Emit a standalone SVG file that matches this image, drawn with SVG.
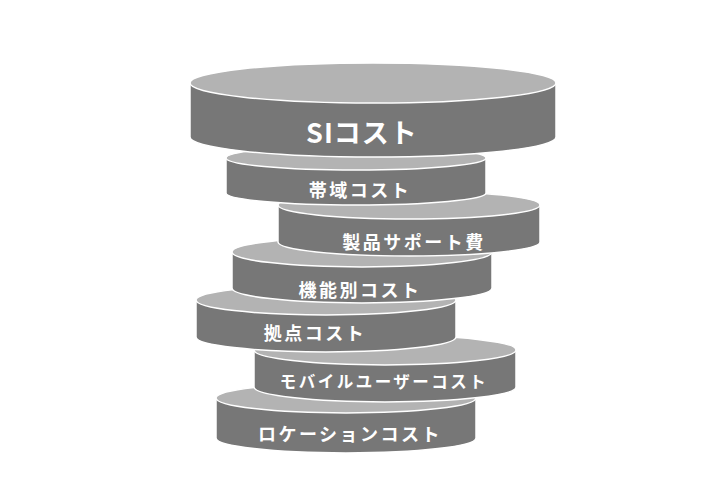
<svg xmlns="http://www.w3.org/2000/svg" width="701" height="501" viewBox="0 0 701 501">
<style>
.side{fill:#777;stroke:#fff;stroke-width:1.5}
.top{fill:#b3b3b3;stroke:#fff;stroke-width:1.5}
text{font-family:"Noto Sans CJK JP","Noto Sans",sans-serif;font-weight:bold;fill:#fff;text-anchor:middle;dominant-baseline:central;font-size:18px;letter-spacing:2.5px}
</style>
<rect width="701" height="501" fill="#fff"/>
<g id="n7">
<path class="side" d="M216,398 L216,438 A130,15 0 0 0 476,438 L476,398 Z"/>
<ellipse class="top" cx="346" cy="398" rx="130" ry="15"/>
<text x="350" y="433">ロケーションコスト</text>
</g>
<g id="n6">
<path class="side" d="M254,350 L254,387 A131,15 0 0 0 516,387 L516,350 Z"/>
<ellipse class="top" cx="385" cy="350" rx="131" ry="15"/>
<text x="384" y="381" style="font-size:16.5px">モバイルユーザーコスト</text>
</g>
<g id="n5">
<path class="side" d="M196,300 L196,337 A130,15 0 0 0 456,337 L456,300 Z"/>
<ellipse class="top" cx="326" cy="300" rx="130" ry="15"/>
<text x="315" y="332">拠点コスト</text>
</g>
<g id="n4">
<path class="side" d="M232,252 L232,288 A130,15 0 0 0 492,288 L492,252 Z"/>
<ellipse class="top" cx="362" cy="252" rx="130" ry="15"/>
<text x="360" y="289">機能別コスト</text>
</g>
<g id="n3">
<path class="side" d="M278,205 L278,242 A131,14 0 0 0 540,242 L540,205 Z"/>
<ellipse class="top" cx="409" cy="205" rx="131" ry="14"/>
<text x="414" y="241">製品サポート費</text>
</g>
<g id="n2">
<path class="side" d="M226,158 L226,193 A130,12 0 0 0 486,193 L486,158 Z"/>
<ellipse class="top" cx="356" cy="158" rx="130" ry="12"/>
<text x="360" y="189">帯域コスト</text>
</g>
<g id="n1">
<path class="side" d="M190,83 L190,137 A183,20 0 0 0 556,137 L556,83 Z"/>
<ellipse class="top" cx="373" cy="83" rx="183" ry="20"/>
<text x="362" y="131" style="font-size:27px;letter-spacing:1px">SIコスト</text>
</g>
</svg>
